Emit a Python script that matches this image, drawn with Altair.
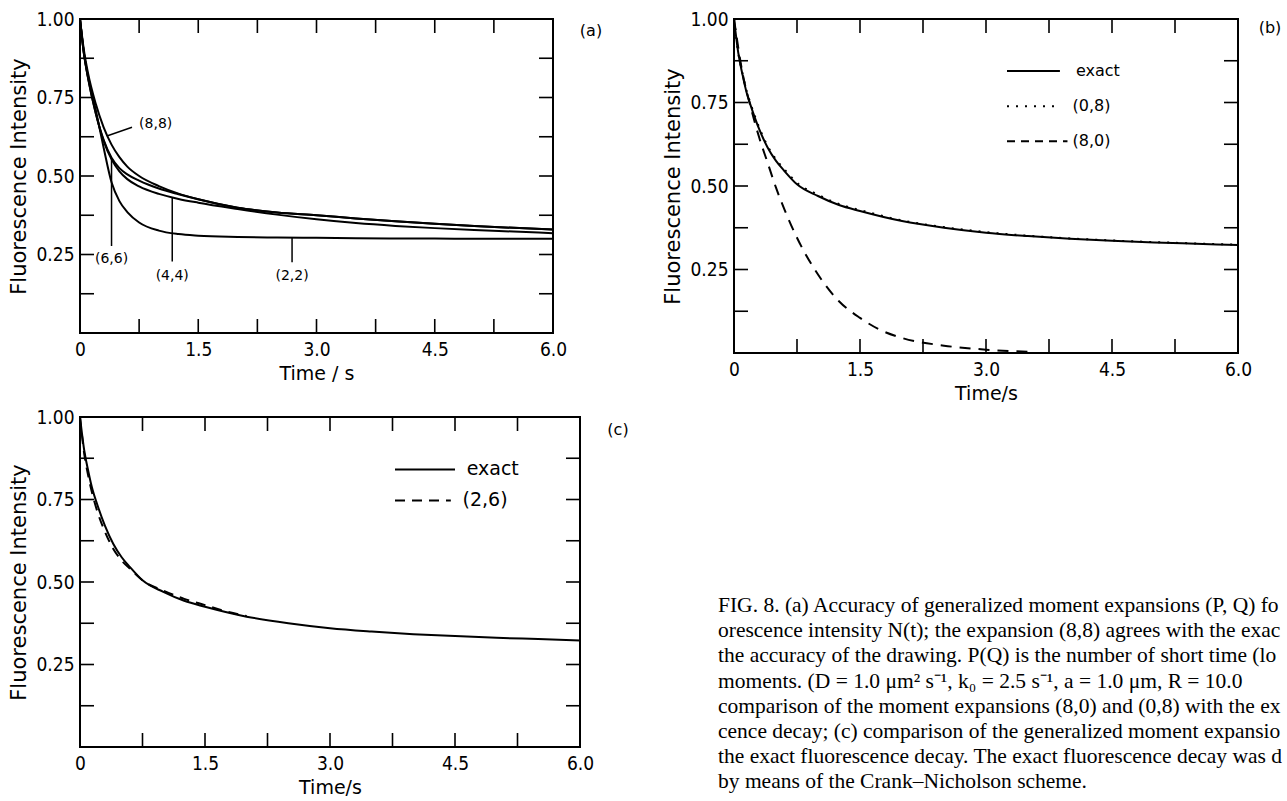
import altair as alt
import pandas as pd

# ---------------- data ----------------
# exact fluorescence decay (panels b and c)
T_EXACT = [0, 0.05, 0.1, 0.15, 0.2, 0.3, 0.4, 0.5, 0.6, 0.75, 1.0, 1.25, 1.5,
           2.0, 2.5, 3.0, 3.5, 4.0, 4.5, 5.0, 5.5, 6.0]
N_EXACT = [1.0, 0.9, 0.835, 0.78, 0.74, 0.67, 0.615, 0.575, 0.545, 0.505, 0.47,
           0.443, 0.425, 0.395, 0.375, 0.36, 0.35, 0.342, 0.336, 0.331, 0.327, 0.323]
# (0,8) expansion, dotted (panel b)
N_08 = [1.0, 0.9, 0.838, 0.785, 0.745, 0.675, 0.62, 0.58, 0.55, 0.51, 0.474,
        0.446, 0.428, 0.397, 0.377, 0.362, 0.351, 0.343, 0.337, 0.332, 0.328, 0.324]
# (8,0) expansion, dashed (panel b)
T_80 = [0, 0.1, 0.2, 0.3, 0.4, 0.5, 0.6, 0.75, 1.0, 1.25, 1.5, 1.75, 2.0, 2.5, 3.0, 3.5]
N_80 = [1.0, 0.84, 0.735, 0.645, 0.57, 0.495, 0.43, 0.345, 0.235, 0.155, 0.105,
        0.068, 0.045, 0.022, 0.01, 0.004]
# (2,6) expansion, dashed (panel c)
T_26 = [0, 0.05, 0.1, 0.15, 0.2, 0.3, 0.4, 0.5, 0.6, 0.75, 1.0, 1.25, 1.5, 1.75, 2.0]
N_26 = [1.0, 0.89, 0.82, 0.765, 0.72, 0.652, 0.6, 0.565, 0.54, 0.505, 0.474,
        0.449, 0.43, 0.411, 0.397]

# panel (a): generalized moment expansions (P,Q)
T_A = [0, 0.05, 0.1, 0.2, 0.3, 0.4, 0.5, 0.6, 0.75, 1.0, 1.25, 1.5, 2.0, 2.5,
       3.0, 3.5, 4.0, 4.5, 5.0, 5.5, 6.0]
A_88 = [1.0, 0.9, 0.83, 0.73, 0.655, 0.6, 0.56, 0.53, 0.5, 0.468, 0.444, 0.426,
        0.399, 0.384, 0.375, 0.365, 0.356, 0.348, 0.341, 0.335, 0.33]
A_66 = [1.0, 0.89, 0.815, 0.7, 0.615, 0.558, 0.525, 0.505, 0.485, 0.46, 0.442,
        0.426, 0.399, 0.384, 0.375, 0.365, 0.356, 0.348, 0.341, 0.335, 0.33]
A_44 = [1.0, 0.89, 0.815, 0.7, 0.612, 0.553, 0.515, 0.49, 0.467, 0.443, 0.427,
        0.415, 0.395, 0.377, 0.362, 0.35, 0.341, 0.334, 0.328, 0.323, 0.318]
A_22 = [1.0, 0.89, 0.82, 0.71, 0.59, 0.48, 0.42, 0.385, 0.352, 0.326, 0.315,
        0.31, 0.306, 0.304, 0.303, 0.302, 0.301, 0.301, 0.3, 0.3, 0.3]

A_LABELS = ["(8,8)", "(6,6)", "(4,4)", "(2,2)"]
A_LABEL_T = [0.96, 0.40, 1.17, 2.69]
A_LABEL_N = [0.665, 0.236, 0.18, 0.18]
A_LEAD_T1 = [0.66, 0.40, 1.17, 2.69]
A_LEAD_N1 = [0.655, 0.277, 0.228, 0.225]
A_LEAD_T2 = [0.35, 0.40, 1.17, 2.69]
A_LEAD_N2 = [0.628, 0.553, 0.43, 0.303]

X_LABEL_VALUES = [0, 1.5, 3.0, 4.5, 6.0]
Y_LABEL_VALUES = [0.25, 0.5, 0.75, 1.0]
X_TICKS = [0.75, 1.5, 2.25, 3.0, 3.75, 4.5, 5.25]
Y_TICKS = [0.125, 0.25, 0.375, 0.5, 0.625, 0.75, 0.875]

CAPTION_LINES = [
    "FIG. 8. (a) Accuracy of generalized moment expansions (P, Q) fo",
    "orescence intensity N(t); the expansion (8,8) agrees with the exact N",
    "the accuracy of the drawing. P(Q) is the number of short time (lo",
    "moments. (D = 1.0 \u03bcm\u00b2 s\u207b\u00b9, k\u2080 = 2.5 s\u207b\u00b9, a = 1.0 \u03bcm, R = 10.0",
    "comparison of the moment expansions (8,0) and (0,8) with the exac",
    "cence decay; (c) comparison of the generalized moment expansion",
    "the exact fluorescence decay. The exact fluorescence decay was de",
    "by means of the Crank\u2013Nicholson scheme.",
]

# ---------------- style ----------------
NUM_FONT = "Liberation Sans Narrow, DejaVu Sans Condensed, sans-serif"
TITLE_FONT = "DejaVu Sans"
TICK = 14
LW = 2

xs = alt.Scale(domain=[0, 6], nice=False, zero=False)
ys = alt.Scale(domain=[0, 1], nice=False, zero=False)


def x_axis(title):
    return alt.Axis(values=X_LABEL_VALUES, title=title, ticks=False, domain=False,
                    grid=False, labelFlush=False, labelOverlap=False,
                    labelExpr="datum.value == 0 ? '0' : format(datum.value, '.1f')",
                    labelFont=NUM_FONT, labelFontSize=19, labelColor="black",
                    labelPadding=7, titleFont=TITLE_FONT, titleFontSize=19,
                    titleFontWeight="normal", titleColor="black", titlePadding=5)


def y_axis():
    return alt.Axis(values=Y_LABEL_VALUES, format=".2f", title="Fluorescence Intensity",
                    ticks=False, domain=False, grid=False, labelOverlap=False,
                    labelFont=NUM_FONT, labelFontSize=19, labelColor="black",
                    labelPadding=6, titleFont=TITLE_FONT, titleFontSize=21,
                    titleFontWeight="normal", titleColor="black", titlePadding=6)


class Panel:
    def __init__(self, W, H, xtitle):
        self.W, self.H = W, H
        self.xa = x_axis(xtitle)
        self.ya = y_axis()

    def X(self, field):
        return alt.X(field, scale=xs, axis=self.xa)

    def Y(self, field):
        return alt.Y(field, scale=ys, axis=self.ya)

    def frame_ticks(self):
        W, H = self.W, self.H
        xt = pd.DataFrame({"t": X_TICKS})
        yt = pd.DataFrame({"n": Y_TICKS})
        rule = dict(color="black", strokeWidth=1.6)
        return [
            alt.Chart(xt).mark_rule(**rule).encode(
                x=self.X("t:Q"), y=alt.value(H), y2=alt.value(H - TICK)),
            alt.Chart(xt).mark_rule(**rule).encode(
                x=self.X("t:Q"), y=alt.value(0), y2=alt.value(TICK)),
            alt.Chart(yt).mark_rule(**rule).encode(
                y=self.Y("n:Q"), x=alt.value(0), x2=alt.value(TICK)),
            alt.Chart(yt).mark_rule(**rule).encode(
                y=self.Y("n:Q"), x=alt.value(W), x2=alt.value(W - TICK)),
        ]

    def curve(self, t, n, dash=None, width=LW):
        df = pd.DataFrame({"t": t, "n": n})
        kw = dict(interpolate="monotone", color="black", strokeWidth=width, clip=True)
        if dash is not None:
            kw["strokeDash"] = dash
        return alt.Chart(df).mark_line(**kw).encode(x=self.X("t:Q"), y=self.Y("n:Q"))

    def data_text(self, text, t, n, size=16, align="center", font="DejaVu Sans"):
        return alt.Chart(pd.DataFrame({"s": [text], "t": [t], "n": [n]})).mark_text(
            align=align, baseline="middle", font=font, fontSize=size, color="black"
        ).encode(x=self.X("t:Q"), y=self.Y("n:Q"), text="s:N")

    def legend_rule(self, t1, t2, n, dash=None):
        df = pd.DataFrame({"t": [t1], "t2": [t2], "n": [n]})
        kw = dict(color="black", strokeWidth=LW)
        if dash is not None:
            kw["strokeDash"] = dash
        return alt.Chart(df).mark_rule(**kw).encode(
            x=self.X("t:Q"), x2="t2:Q", y=self.Y("n:Q"))


def pixel_text(text, px, py, size=16, font="DejaVu Sans", align="center", **extra):
    return alt.Chart(pd.DataFrame({"s": [text]})).mark_text(
        align=align, baseline="middle", font=font, fontSize=size, color="black", **extra
    ).encode(x=alt.value(px), y=alt.value(py), text="s:N")


# ---------------- panel (a) ----------------
pa = Panel(473, 314, "Time / s")
rows = []
for name, vals in [("(8,8)", A_88), ("(6,6)", A_66), ("(4,4)", A_44), ("(2,2)", A_22)]:
    for t, n in zip(T_A, vals):
        rows.append({"s": name, "t": t, "n": n})
dfa = pd.DataFrame(rows)
a_lines = alt.Chart(dfa).mark_line(interpolate="monotone", color="black", strokeWidth=LW, clip=True).encode(
    x=pa.X("t:Q"), y=pa.Y("n:Q"), detail="s:N")
lead = pd.DataFrame({"t": A_LEAD_T1, "n": A_LEAD_N1, "t2": A_LEAD_T2, "n2": A_LEAD_N2})
a_lead = alt.Chart(lead).mark_rule(color="black", strokeWidth=1.5).encode(
    x=pa.X("t:Q"), y=pa.Y("n:Q"), x2="t2:Q", y2="n2:Q")
lab = pd.DataFrame({"s": A_LABELS, "t": A_LABEL_T, "n": A_LABEL_N})
a_lab = alt.Chart(lab).mark_text(font="DejaVu Sans", fontSize=14, color="black", baseline="middle").encode(
    x=pa.X("t:Q"), y=pa.Y("n:Q"), text="s:N")
panel_a = alt.layer(
    a_lines, a_lead, a_lab, *pa.frame_ticks(),
    pixel_text("(a)", pa.W + 38, 12, size=16),
).properties(width=pa.W, height=pa.H)

# ---------------- panel (b) ----------------
pb = Panel(504, 334, "Time/s")
panel_b = alt.layer(
    pb.curve(T_EXACT, N_EXACT),
    pb.curve(T_EXACT, N_08, dash=[2, 7]),
    pb.curve(T_80, N_80, dash=[11, 8]),
    *pb.frame_ticks(),
    pb.legend_rule(3.25, 3.88, 0.844),
    pb.data_text("exact", 4.07, 0.844, size=16, align="left"),
    pb.legend_rule(3.25, 3.88, 0.739, dash=[2, 7]),
    pb.data_text("(0,8)", 4.03, 0.739, size=16, align="left"),
    pb.legend_rule(3.25, 3.97, 0.634, dash=[8, 6]),
    pb.data_text("(8,0)", 4.03, 0.634, size=16, align="left"),
    pixel_text("(b)", pb.W + 32, 9, size=16),
).properties(width=pb.W, height=pb.H)

# ---------------- panel (c) + caption ----------------
pc = Panel(500, 330, "Time/s")
cap_layers = [
    pixel_text(line, 638, 189 + 25.2 * i, size=21.5, font="Liberation Serif",
               align="left", limit=566, ellipsis="\u200b")
    for i, line in enumerate(CAPTION_LINES)
]
panel_c = alt.layer(
    pc.curve(T_EXACT, N_EXACT),
    pc.curve(T_26, N_26, dash=[10, 7]),
    *pc.frame_ticks(),
    pc.legend_rule(3.78, 4.5, 0.841),
    pc.data_text("exact", 4.64, 0.841, size=19, align="left"),
    pc.legend_rule(3.78, 4.45, 0.747, dash=[10, 7]),
    pc.data_text("(2,6)", 4.59, 0.747, size=19, align="left"),
    pixel_text("(c)", pc.W + 38, 13, size=16),
    *cap_layers,
).properties(width=pc.W, height=pc.H)

chart = alt.vconcat(
    alt.hconcat(panel_a, panel_b, spacing=57),
    panel_c,
    spacing=3,
).properties(
    padding={"left": 7, "top": 9, "right": 0, "bottom": 0},
    background="white",
).configure_view(stroke="black", strokeWidth=2)

chart.save("out.html", embed_options={"renderer": "svg", "actions": False})
